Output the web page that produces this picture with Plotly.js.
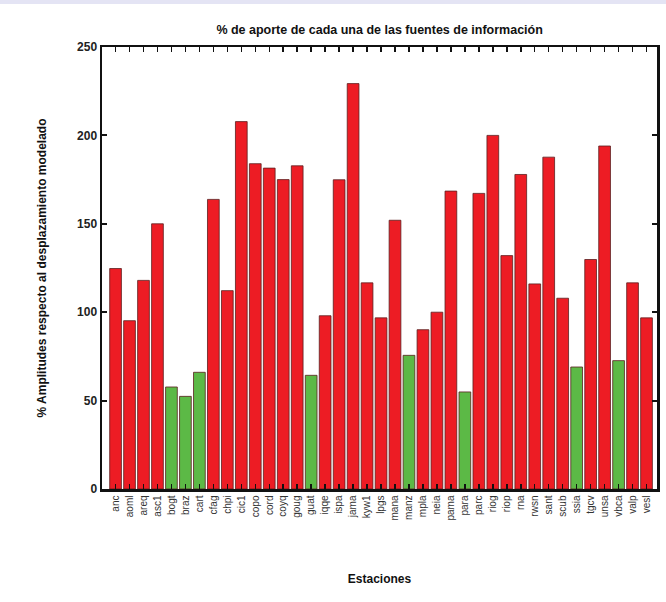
<!DOCTYPE html>
<html>
<head>
<meta charset="utf-8">
<script src="https://cdn.plot.ly/plotly-3.0.1.min.js"></script>
<style>
  html, body { margin: 0; padding: 0; background: #fff; }
  body { border-top: 4px solid #e4e4f4; box-sizing: border-box; }
  #chart { width: 666px; height: 598px; }
</style>
</head>
<body>
<div id="chart"></div>
<script>
// Estaciones GPS
const estaciones = [
  'anc', 'aoml', 'areq', 'asc1', 'bogt', 'braz', 'cart', 'cfag', 'chpi', 'cic1',
  'copo', 'cord', 'coyq', 'goug', 'guat', 'iqqe', 'ispa', 'jama', 'kyw1', 'lpgs',
  'mana', 'manz', 'mpla', 'neia', 'pama', 'para', 'parc', 'riog', 'riop', 'rna',
  'rwsn', 'sant', 'scub', 'ssia', 'tgcv', 'unsa', 'vbca', 'valp', 'vesl'
];

// % de amplitud respecto al desplazamiento modelado
const amplitudes = [
  124.7, 95.2, 118, 150, 57.7, 52.4, 66, 163.8, 112.2, 207.8,
  184, 181.5, 175, 182.8, 64.3, 98, 174.9, 229.3, 116.6, 96.8,
  152, 75.6, 90.1, 100, 168.5, 54.9, 167.2, 200, 132, 177.9,
  116, 187.7, 107.9, 69, 129.8, 194, 72.6, 116.6, 96.8
];

// Fuente de información dominante en cada estación (0 = roja, 1 = verde)
const fuente = [
  0, 0, 0, 0, 1, 1, 1, 0, 0, 0,
  0, 0, 0, 0, 1, 0, 0, 0, 0, 0,
  0, 1, 0, 0, 0, 1, 0, 0, 0, 0,
  0, 0, 0, 1, 0, 0, 1, 0, 0
];

const yTicks = [0, 50, 100, 150, 200, 250];

const colores = ['#ed1c24', '#5cb946'];
const idx = estaciones.map((_, i) => i);

const trace = {
  type: 'bar',
  x: idx,
  y: amplitudes,
  marker: {
    color: fuente.map(f => colores[f]),
    line: { color: '#5a2020', width: 0.8 }
  },
  hoverinfo: 'y'
};

const axisFont = { family: 'Liberation Sans, Arial, sans-serif', size: 12, color: '#111', weight: 'bold' };

const layout = {
  width: 666,
  height: 598,
  margin: { l: 102, r: 9, t: 43, b: 113 },
  paper_bgcolor: '#fff',
  plot_bgcolor: '#fff',
  showlegend: false,
  bargap: 0.16,
  title: {
    text: '% de aporte de cada una de las fuentes de información',
    font: { family: 'Liberation Sans, Arial, sans-serif', size: 12.5, color: '#111', weight: 'bold' },
    x: 0.57, xanchor: 'center',
    y: 0.957, yanchor: 'middle'
  },
  xaxis: {
    range: [-0.97, 38.75],
    tickmode: 'array',
    tickvals: idx,
    ticktext: estaciones,
    tickangle: -90,
    tickfont: { family: 'Liberation Sans, Arial, sans-serif', size: 10, color: '#333' },
    ticks: 'inside',
    ticklen: 5,
    tickwidth: 1.5,
    tickcolor: '#111',
    showline: true,
    linecolor: '#111',
    linewidth: 2.5,
    mirror: 'ticks',
    showgrid: false,
    zeroline: false,
    fixedrange: true,
    title: {
      text: 'Estaciones',
      font: axisFont,
      standoff: 55
    }
  },
  yaxis: {
    range: [0, 250],
    tickmode: 'array',
    tickvals: yTicks,
    ticktext: yTicks.map(String),
    tickfont: { family: 'Liberation Sans, Arial, sans-serif', size: 12, color: '#222', weight: 'bold' },
    ticks: 'inside',
    ticklen: 5,
    tickwidth: 2,
    tickcolor: '#111',
    showline: true,
    linecolor: '#111',
    linewidth: 2.5,
    mirror: 'ticks',
    showgrid: false,
    zeroline: false,
    fixedrange: true,
    title: {
      text: '% Amplitudes respecto al desplazamiento modelado',
      font: axisFont,
      standoff: 28
    }
  }
};

Plotly.newPlot('chart', [trace], layout, { displayModeBar: false, staticPlot: true });
</script>
</body>
</html>
